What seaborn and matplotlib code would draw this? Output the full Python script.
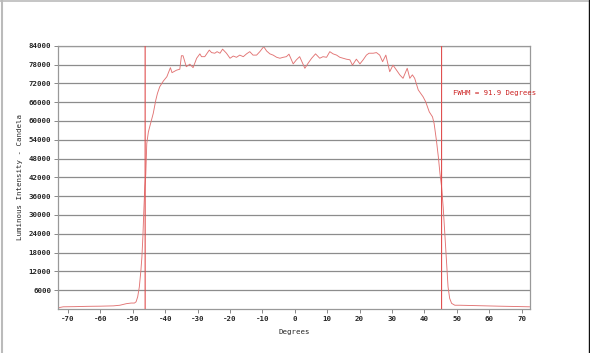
import matplotlib
matplotlib.use("Agg")
import matplotlib.pyplot as plt
from matplotlib.lines import Line2D
import numpy as np
import pandas as pd
import seaborn as sns

degrees = [-73.0, -72.5, -71.5, -68, -64, -60, -56, -54, -52, -50.5, -49.5, -49.0, -48.5, -48.0,
           -47.5, -47.2, -46.9, -46.6, -46.3, -46.0, -45.7, -45.2, -44.8, -43.7, -42.9, -42.4,
           -41.7, -40.6, -39.5, -38.4, -37.9, -36.5, -35.5, -35.0, -34.5, -33.5, -32.4, -31.4,
           -30.3, -29.3, -28.8, -27.8, -26.4, -25.7, -24.7, -24.0, -23.1, -22.3, -21.1, -20.0,
           -19.0, -18.0, -17.0, -15.9, -14.9, -13.9, -12.9, -11.8, -10.8, -9.6, -8.7, -7.7,
           -6.7, -5.6, -4.6, -3.6, -2.6, -1.8, -0.5, 0.5, 1.5, 3.1, 4.1, 5.2, 6.4, 7.7, 8.7,
           9.8, 10.8, 11.8, 12.9, 13.9, 14.9, 15.9, 17.0, 17.8, 19.0, 20.1, 21.1, 22.1, 22.9,
           24.2, 25.2, 26.2, 27.1, 28.1, 29.3, 30.3, 31.4, 32.4, 33.4, 34.7, 35.5, 36.3, 37.0,
           38.1, 39.6, 40.4, 41.5, 42.5, 43.0, 43.7, 44.3, 44.8, 45.3, 45.8, 46.3, 46.8, 47.3,
           47.8, 48.4, 49.4, 51, 55, 63, 68, 72.5]
candela = [300, 500, 700, 750, 850, 900, 1000, 1200, 1700, 1900, 1900, 2300, 3900, 7000,
           12400, 16600, 23000, 31500, 39000, 43000, 52800, 56500, 58100, 62400, 66700, 68800,
           70900, 72700, 74100, 77000, 75400, 76200, 76500, 80800, 80800, 77300, 78100, 77000,
           80000, 81400, 80500, 80500, 82600, 81800, 81600, 82100, 81600, 82900, 81600, 80000,
           80700, 80300, 81000, 80500, 81400, 82100, 81000, 81000, 82100, 83700, 82300, 81400,
           81000, 80300, 80000, 80300, 80500, 81300, 78200, 79500, 80500, 76800, 78400, 80000, 81400, 80000, 80500,
           80300, 82100, 81400, 81000, 80300, 80000, 79700, 79500, 77800, 79700, 78200, 79500, 81000, 81600,
           81600, 81800, 81000, 78900, 81000, 75700, 77800, 76200, 74700, 73600, 76800, 73600, 74700, 73600,
           69900, 67700, 66100, 62900, 61300, 59200, 53900, 48600, 43300, 39000, 32600, 24100, 15600, 7100,
           3400, 1800, 1200, 1200, 1100, 900, 800, 700]

fwhm_lines = [-46.2, 45.3]
fwhm_label = "FWHM = 91.9 Degrees"
x_ticks = [-70, -60, -50, -40, -30, -20, -10, 0, 10, 20, 30, 40, 50, 60, 70]
y_ticks = list(range(6000, 84001, 6000))

df = pd.DataFrame({"Degrees": degrees, "Candela": candela})

sns.set_theme(style="white")
plt.rcParams['font.family'] = ['DejaVu Sans Mono', 'DejaVu Sans']

fig = plt.figure(figsize=(5.9, 3.53), dpi=100)
ax = fig.add_axes([58/590, 1 - 309/353, (530-58)/590, (309-45.7)/353])

sns.lineplot(data=df, x="Degrees", y="Candela", ax=ax, color="#e27474", linewidth=0.65)

for v in fwhm_lines:
    ax.axvline(v, color="#e05050", linewidth=0.8, zorder=3, snap=False)

ax.set_xlim(-73.1, 72.6)
ax.set_ylim(0, 84000)
ax.set_xticks(x_ticks)
ax.set_yticks(y_ticks)
ax.set_xticklabels([str(t) for t in x_ticks], fontsize=5.3, fontweight="bold")
ax.set_yticklabels([str(t) for t in y_ticks], fontsize=5.3, fontweight="bold")
ax.yaxis.grid(True, color="#8c8c8c", linewidth=0.9)
ax.xaxis.grid(False)
ax.tick_params(axis="both", which="both", length=3, width=0.7, color="#888888", pad=2,
               left=True, bottom=True)
for s in ax.spines.values():
    s.set_color("#999999")
    s.set_linewidth(0.9)

ax.set_xlabel("Degrees", fontsize=5.3, labelpad=5)
ax.set_ylabel("Luminous Intensity - Candela", fontsize=5.3, labelpad=4)

ax.text(48.8, 69000, fwhm_label, color="#cc2222", fontsize=5.2, ha="left", va="center")

# figure frame
fig.add_artist(Line2D([2/590, 2/590], [0, 1], transform=fig.transFigure, color="#bbbbbb", linewidth=1.5))
fig.add_artist(Line2D([0, 1], [1 - 1/353, 1 - 1/353], transform=fig.transFigure, color="#bbbbbb", linewidth=1.2))
fig.add_artist(Line2D([588.5/590, 588.5/590], [0, 1], transform=fig.transFigure, color="#111111", linewidth=1.0))

fig.savefig("out.png", dpi=100)
